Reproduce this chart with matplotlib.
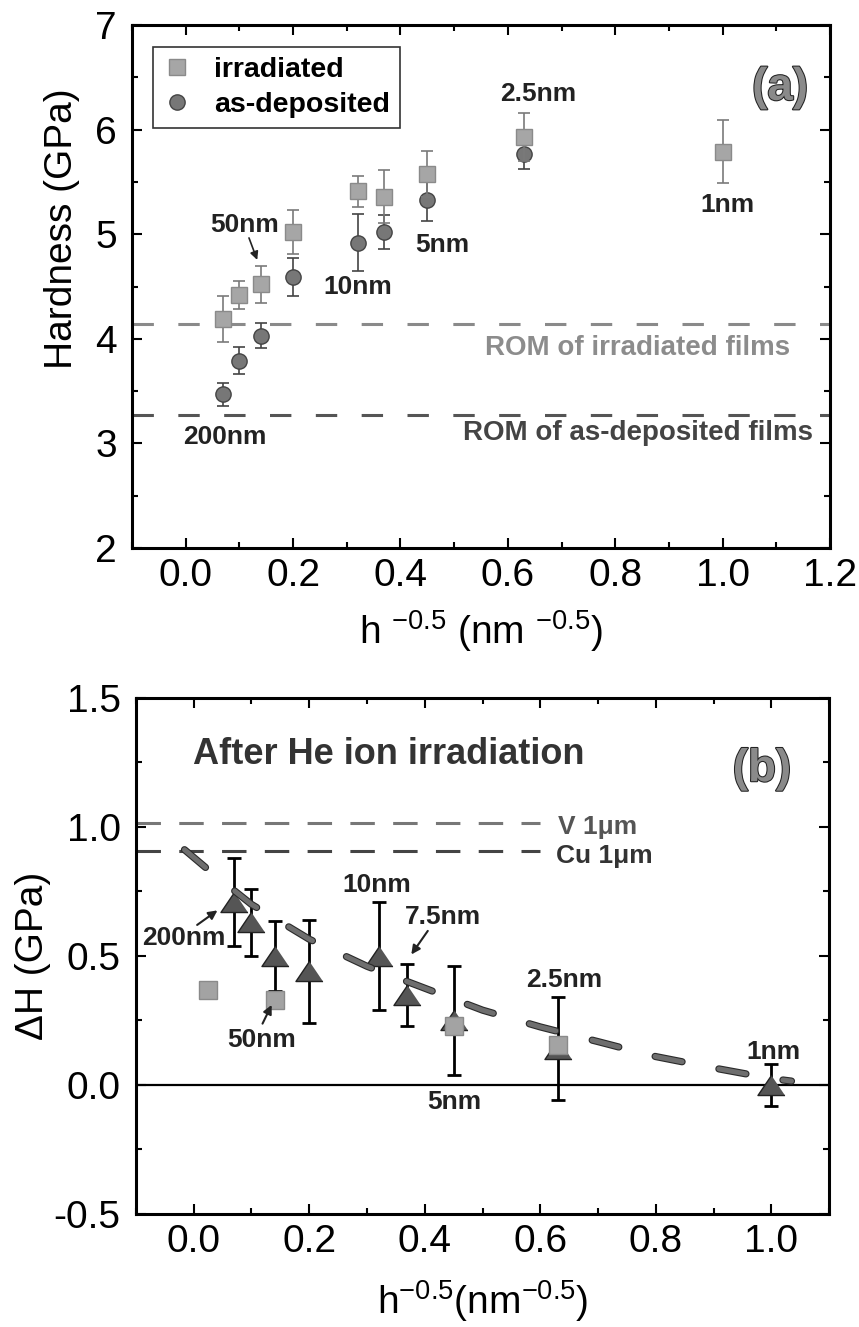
import matplotlib
matplotlib.use('Agg')
import matplotlib.pyplot as plt
import matplotlib.patheffects as pe
from matplotlib.lines import Line2D
from matplotlib.ticker import MultipleLocator

plt.rcParams['font.family'] = ['Liberation Sans', 'DejaVu Sans']
plt.rcParams['mathtext.fontset'] = 'custom'
plt.rcParams['mathtext.rm'] = 'Liberation Sans'
plt.rcParams['mathtext.it'] = 'Liberation Sans:italic'
plt.rcParams['mathtext.bf'] = 'Liberation Sans:bold'

# (a) hardness vs h^-0.5
h_inv = [0.07, 0.10, 0.14, 0.20, 0.32, 0.37, 0.45, 0.63, 1.00]
H_irr = [4.19, 4.42, 4.52, 5.02, 5.41, 5.36, 5.58, 5.93, 5.79]
H_irr_err = [0.22, 0.13, 0.18, 0.21, 0.15, 0.25, 0.22, 0.23, 0.30]
h_inv_dep = [0.07, 0.10, 0.14, 0.20, 0.32, 0.37, 0.45, 0.63]
H_dep = [3.47, 3.79, 4.03, 4.59, 4.92, 5.02, 5.33, 5.77]
H_dep_err = [0.11, 0.13, 0.12, 0.18, 0.27, 0.16, 0.20, 0.15]
ROM_irr = 4.14
ROM_dep = 3.27

# (b) hardness increase after irradiation
dH = [0.71, 0.63, 0.50, 0.44, 0.50, 0.35, 0.25, 0.14, 0.00]
dH_err = [0.17, 0.13, 0.135, 0.20, 0.21, 0.12, 0.21, 0.20, 0.08]
sq_x = [0.025, 0.14, 0.45, 0.63]
sq_y = [0.37, 0.33, 0.23, 0.155]
fit_x = [-0.016, 0.03, 0.10, 0.20, 0.30, 0.40, 0.50, 0.60, 0.70, 0.80, 0.90, 1.00, 1.035]
fit_y = [0.912, 0.825, 0.70, 0.565, 0.46, 0.375, 0.29, 0.225, 0.168, 0.11, 0.066, 0.025, 0.015]
V_1um = 1.015
Cu_1um = 0.905

fig = plt.figure(figsize=(8.59, 13.27), dpi=100)
ax1 = fig.add_axes([0.1537, 0.587, 0.8126, 0.3941])
ax2 = fig.add_axes([0.1583, 0.0852, 0.8068, 0.3888])

def style_axes(ax):
    for s in ax.spines.values():
        s.set_linewidth(2.2)
    ax.tick_params(which='both', direction='in', top=True, right=True,
                   labelsize=28, width=1.5)
    ax.tick_params(which='major', length=7)
    ax.tick_params(which='minor', length=4)
    ax.tick_params(axis='x', pad=7)
    ax.tick_params(axis='y', pad=11)

# ---- panel (a)
ax1.axhline(ROM_irr, color='#8a8a8a', lw=2.2, ls=(0, (7, 8)), zorder=1)
ax1.axhline(ROM_dep, color='#555555', lw=2.2, ls=(0, (7, 8)), zorder=1)
ax1.errorbar(h_inv, H_irr, yerr=H_irr_err, fmt='s', ms=11.5, mfc='#a6a6a6',
             mec='#8a8a8a', ecolor='#7a7a7a', elinewidth=1.2, capsize=4.5,
             capthick=1.2, zorder=3)
ax1.errorbar(h_inv_dep, H_dep, yerr=H_dep_err, fmt='o', ms=11, mfc='#777777',
             mec='#444444', ecolor='#444444', elinewidth=1.2, capsize=4.5,
             capthick=1.2, zorder=2)

ax1.set_xlim(-0.1, 1.2)
ax1.set_ylim(2, 7)
ax1.xaxis.set_major_locator(MultipleLocator(0.2))
ax1.xaxis.set_minor_locator(MultipleLocator(0.1))
ax1.yaxis.set_major_locator(MultipleLocator(1))
ax1.yaxis.set_minor_locator(MultipleLocator(0.5))
ax1.xaxis.set_major_formatter(lambda v, p: f'{v:.1f}')
style_axes(ax1)
ax1.set_ylabel('Hardness (GPa)', fontsize=28)
ax1.yaxis.set_label_coords(-0.075, 0.61)
ax1.set_xlabel(r'h $^{-0.5}$ (nm $^{-0.5}$)', fontsize=28)
ax1.xaxis.set_label_coords(0.5, -0.115)

handles = [Line2D([], [], ls='none', marker='s', ms=11.5, mfc='#a6a6a6', mec='#8a8a8a'),
           Line2D([], [], ls='none', marker='o', ms=11, mfc='#777777', mec='#444444')]
leg = ax1.legend(handles, ['irradiated', 'as-deposited'], loc='upper left',
                 bbox_to_anchor=(0.03, 0.958), borderaxespad=0,
                 fancybox=False, edgecolor='#333333', framealpha=1,
                 prop={'weight': 'bold', 'size': 20.5}, handlelength=1.0,
                 handletextpad=0.8, borderpad=0.35, labelspacing=0.3)
leg.get_frame().set_linewidth(1.2)

lab = dict(fontsize=19, fontweight='bold', ha='center', va='center', color='#222222')
ax1.text(0.657, 6.34, '2.5nm', **lab)
ax1.text(1.009, 5.28, '1nm', **lab)
ax1.text(0.11, 5.09, '50nm', **lab)
ax1.text(0.32, 4.50, '10nm', **lab)
ax1.text(0.477, 4.90, '5nm', **lab)
ax1.text(0.073, 3.06, '200nm', **lab)
ax1.annotate('', xy=(0.135, 4.73), xytext=(0.116, 4.99),
             arrowprops=dict(arrowstyle='-|>', color='#222222', lw=1.2,
                             mutation_scale=12))
ax1.text(1.126, 3.91, 'ROM of irradiated films', fontsize=20, fontweight='bold',
         ha='right', va='center', color='#8c8c8c')
ax1.text(1.168, 3.10, 'ROM of as-deposited films', fontsize=20, fontweight='bold',
         ha='right', va='center', color='#444444')
ax1.text(1.107, 6.40, '(a)', fontsize=33, fontweight='bold', ha='center',
         va='center', color='#8a8a8a',
         path_effects=[pe.withStroke(linewidth=1.5, foreground='#222222')])

# ---- panel (b)
ax2.axhline(0, color='black', lw=1.6, zorder=1)
ax2.plot([-0.1, 0.6], [V_1um, V_1um], color='#777777', lw=2.2, ls=(0, (8, 6)), zorder=1)
ax2.plot([-0.1, 0.6], [Cu_1um, Cu_1um], color='#444444', lw=2.2, ls=(0, (8, 6)), zorder=1)
ax2.errorbar(h_inv, dH, yerr=dH_err, fmt='none', ecolor='black', elinewidth=2,
             capsize=5, capthick=2, zorder=2)
ax2.plot(h_inv, dH, ls='none', marker=[(0, 0.74), (-1, -0.74), (1, -0.74)],
         ms=19.5, mfc='#555555', mec='#222222', mew=1, zorder=3)
ax2.plot(sq_x, sq_y, ls='none', marker='s', ms=13.5, mfc='#a3a3a3',
         mec='#8a8a8a', zorder=3)
ax2.plot(fit_x, fit_y, color='#6e6e6e', lw=3.6, ls=(0, (5.5, 7.5)),
         dash_capstyle='round', zorder=4,
         path_effects=[pe.Stroke(linewidth=5.2, foreground='#2a2a2a'), pe.Normal()])

ax2.set_xlim(-0.1, 1.1)
ax2.set_ylim(-0.5, 1.5)
ax2.xaxis.set_major_locator(MultipleLocator(0.2))
ax2.xaxis.set_minor_locator(MultipleLocator(0.1))
ax2.yaxis.set_major_locator(MultipleLocator(0.5))
ax2.yaxis.set_minor_locator(MultipleLocator(0.25))
ax2.xaxis.set_major_formatter(lambda v, p: f'{v:.1f}')
ax2.yaxis.set_major_formatter(lambda v, p: f'{v:.1f}')
style_axes(ax2)
ax2.set_ylabel('ΔH (GPa)', fontsize=28)
ax2.yaxis.set_label_coords(-0.122, 0.5)
ax2.set_xlabel(r'h$^{-0.5}$(nm$^{-0.5}$)', fontsize=28)
ax2.xaxis.set_label_coords(0.5, -0.124)

ax2.text(-0.002, 1.28, 'After He ion irradiation', fontsize=26, fontweight='bold',
         ha='left', va='center', color='#333333')
ax2.text(0.984, 1.224, '(b)', fontsize=33, fontweight='bold', ha='center',
         va='center', color='#8a8a8a',
         path_effects=[pe.withStroke(linewidth=1.5, foreground='#222222')])
ax2.text(0.63, 1.00, 'V 1μm', fontsize=19, fontweight='bold', ha='left',
         va='center', color='#555555')
ax2.text(0.628, 0.889, 'Cu 1μm', fontsize=19, fontweight='bold', ha='left',
         va='center', color='#333333')
ax2.text(-0.017, 0.571, '200nm', **lab)
ax2.text(0.118, 0.174, '50nm', **lab)
ax2.text(0.317, 0.776, '10nm', **lab)
ax2.text(0.431, 0.652, '7.5nm', **lab)
ax2.text(0.452, -0.066, '5nm', **lab)
ax2.text(0.642, 0.407, '2.5nm', **lab)
ax2.text(1.004, 0.127, '1nm', **lab)
arr = dict(arrowstyle='-|>', color='#222222', lw=1.5, mutation_scale=13)
ax2.annotate('', xy=(0.045, 0.683), xytext=(0.002, 0.614), arrowprops=arr)
ax2.annotate('', xy=(0.137, 0.32), xytext=(0.117, 0.228), arrowprops=arr)
ax2.annotate('', xy=(0.374, 0.497), xytext=(0.408, 0.606), arrowprops=arr)

fig.savefig('out.png', dpi=100)
